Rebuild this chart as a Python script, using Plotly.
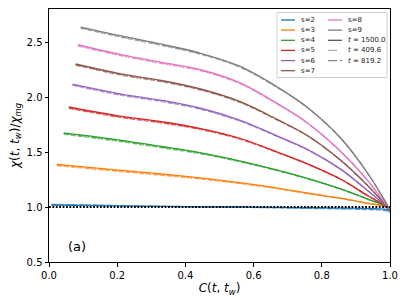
import plotly.graph_objects as go

# ---------------- data ----------------
S_LABELS = ["s=2", "s=3", "s=4", "s=5", "s=6", "s=7", "s=8", "s=9"]
COLORS = ["#1f77b4", "#ff7f0e", "#2ca02c", "#d62728", "#9467bd", "#8c564b", "#e377c2", "#7f7f7f"]

C_GRID = [0.212, 0.33, 0.442, 0.559, 0.67, 0.76, 0.857, 0.936, 0.984, 1.0]
C_START = [0.007, 0.023, 0.043, 0.058, 0.069, 0.078, 0.085, 0.093]
CHI_START = [1.018, 1.387, 1.673, 1.909, 2.118, 2.300, 2.475, 2.636]

chi_s2 = [1.010, 1.005, 1.002, 1.000, 0.996, 0.993, 0.990, 0.986, 0.980, 0.965]
chi_s3 = [1.333, 1.300, 1.265, 1.222, 1.172, 1.125, 1.078, 1.033, 1.006, 0.975]
chi_s4 = [1.606, 1.550, 1.495, 1.420, 1.335, 1.258, 1.162, 1.070, 1.012, 0.975]
chi_s5 = [1.824, 1.775, 1.715, 1.625, 1.500, 1.390, 1.250, 1.100, 1.015, 0.975]
chi_s6 = [2.027, 1.970, 1.900, 1.790, 1.645, 1.520, 1.340, 1.145, 1.020, 0.975]
chi_s7 = [2.210, 2.150, 2.075, 1.960, 1.795, 1.645, 1.420, 1.190, 1.030, 0.975]
chi_s8 = [2.385, 2.315, 2.250, 2.130, 1.940, 1.760, 1.500, 1.235, 1.040, 0.975]
chi_s9 = [2.555, 2.480, 2.400, 2.280, 2.090, 1.900, 1.620, 1.300, 1.060, 0.975]
CHI_T1500 = [chi_s2, chi_s3, chi_s4, chi_s5, chi_s6, chi_s7, chi_s8, chi_s9]

# small deviations of the shorter-time curves from the t=1500 curves (start + grid)
DELTA_T409 = [-0.012, -0.012, -0.012, -0.010, -0.008, -0.005, -0.003, 0.0, 0.0, 0.0, 0.0]
DELTA_T819 = [-0.006, -0.006, -0.006, -0.005, -0.004, -0.003, -0.001, 0.0, 0.0, 0.0, 0.0]
DELTA_S2_T409 = [0.006, 0.004, 0.002, 0.0, -0.002, -0.004, -0.006, -0.008, -0.010, -0.012, -0.015]
DELTA_S2_T819 = [0.003, 0.002, 0.001, 0.0, -0.001, -0.002, -0.003, -0.004, -0.005, -0.006, -0.008]

T_LABELS = ["<i>t</i> = 1500.0", "<i>t</i> = 409.6", "<i>t</i> = 819.2"]

X_TICKS = [0.0, 0.2, 0.4, 0.6, 0.8, 1.0]
Y_TICKS = [0.5, 1.0, 1.5, 2.0, 2.5]
REF_LINE_X = [0.0, 1.0]
REF_LINE_Y = [1.0, 1.0]

# ---------------- figure ----------------
W, H = 407, 305
ML, MR, MT, MB = 49, 17, 9, 43
PW, PH = W - ML - MR, H - MT - MB
FONT = "DejaVu Sans"

def px_x(x):
    return (x - ML) / PW

def px_y(y):
    return 1 - (y - MT) / PH

LW = 1.3
DASH = "4.8px,2.1px"
DASHDOT = "8.3px,2.1px,1.3px,2.1px"
SMOOTH = 1.0

fig = go.Figure()

for i in range(len(S_LABELS)):
    xs = [C_START[i]] + C_GRID
    base = [CHI_START[i]] + CHI_T1500[i]
    d409 = DELTA_S2_T409 if i == 0 else DELTA_T409
    d819 = DELTA_S2_T819 if i == 0 else DELTA_T819
    y409 = [b + d for b, d in zip(base, d409)]
    y819 = [b + d for b, d in zip(base, d819)]
    fig.add_trace(go.Scatter(x=xs, y=y409, mode="lines", showlegend=False, opacity=0.6, hoverinfo="skip",
                             line=dict(color=COLORS[i], width=LW, dash=DASH, shape="spline", smoothing=SMOOTH)))
    fig.add_trace(go.Scatter(x=xs, y=y819, mode="lines", showlegend=False, opacity=0.6, hoverinfo="skip",
                             line=dict(color=COLORS[i], width=LW, dash=DASHDOT, shape="spline", smoothing=SMOOTH)))

for i in range(len(S_LABELS)):
    xs = [C_START[i]] + C_GRID
    base = [CHI_START[i]] + CHI_T1500[i]
    fig.add_trace(go.Scatter(x=xs, y=base, mode="lines", name=S_LABELS[i], showlegend=False,
                             line=dict(color=COLORS[i], width=LW, shape="spline", smoothing=SMOOTH)))

fig.add_trace(go.Scatter(x=REF_LINE_X, y=REF_LINE_Y, mode="lines", showlegend=False, hoverinfo="skip",
                         line=dict(color="black", width=2, dash="1.8px,1.6px")))

# ---- manual two-column legend (matplotlib style) ----
shapes = []
annotations = []
shapes.append(dict(type="rect", xref="paper", yref="paper",
                   x0=px_x(277), x1=px_x(387), y0=px_y(77.5), y1=px_y(12.5),
                   line=dict(color="#d0d0d0", width=1), fillcolor="rgba(255,255,255,0.8)", layer="above"))
rows = [20.0, 30.1, 40.3, 50.4, 60.6, 70.7]
entries = []
for i in range(6):
    entries.append((0, i, S_LABELS[i], COLORS[i], None))
entries.append((1, 0, S_LABELS[6], COLORS[6], None))
entries.append((1, 1, S_LABELS[7], COLORS[7], None))
entries.append((1, 2, T_LABELS[0], "#555555", None))
entries.append((1, 3, T_LABELS[1], "#b0b0b0", "dash"))
entries.append((1, 4, T_LABELS[2], "#888888", "dashdot"))
cols = [(281, 295, 299), (328, 342, 346)]
for col, row, label, color, dash in entries:
    lx0, lx1, tx = cols[col]
    yy = rows[row]
    shapes.append(dict(type="line", xref="paper", yref="paper",
                       x0=px_x(lx0), x1=px_x(lx1), y0=px_y(yy), y1=px_y(yy),
                       line=dict(color=color, width=1.3, dash=dash if dash else "solid"), layer="above"))
    annotations.append(dict(x=px_x(tx), y=px_y(yy), xref="paper", yref="paper", text=label,
                            showarrow=False, xanchor="left", yanchor="middle",
                            font=dict(family=FONT, size=7, color="#222222")))

annotations.append(dict(x=0.05, y=0.64, xref="x", yref="y", text="(a)", showarrow=False,
                        xanchor="left", yanchor="middle", font=dict(family=FONT, size=13, color="black")))

fig.update_layout(
    width=W, height=H,
    margin=dict(l=ML, r=MR, t=MT, b=MB),
    paper_bgcolor="white", plot_bgcolor="white",
    font=dict(family=FONT, size=10, color="black"),
    shapes=shapes, annotations=annotations,
    showlegend=False,
)
fig.update_xaxes(range=[0, 1], tickvals=X_TICKS, ticktext=[f"{v:.1f}" for v in X_TICKS],
                 showgrid=False, zeroline=False, showline=True, linecolor="black", linewidth=1,
                 mirror=True, ticks="outside", ticklen=3.5, tickwidth=1, tickcolor="black",
                 tickfont=dict(family=FONT, size=10),
                 title=dict(text="<i>C</i>(<i>t</i>, <i>t<sub>w</sub></i>)", font=dict(family=FONT, size=12), standoff=4))
fig.update_yaxes(range=[0.5, 2.8], tickvals=Y_TICKS, ticktext=[f"{v:.1f}" for v in Y_TICKS],
                 showgrid=False, zeroline=False, showline=True, linecolor="black", linewidth=1,
                 mirror=True, ticks="outside", ticklen=3.5, tickwidth=1, tickcolor="black",
                 tickfont=dict(family=FONT, size=10),
                 title=dict(text="<i>χ</i>(<i>t</i>, <i>t<sub>w</sub></i>)/<i>χ<sub>mg</sub></i>",
                            font=dict(family=FONT, size=12), standoff=4))

fig.write_html("out.html", config={"displayModeBar": False},
               post_script="document.body.style.margin='0px';")
